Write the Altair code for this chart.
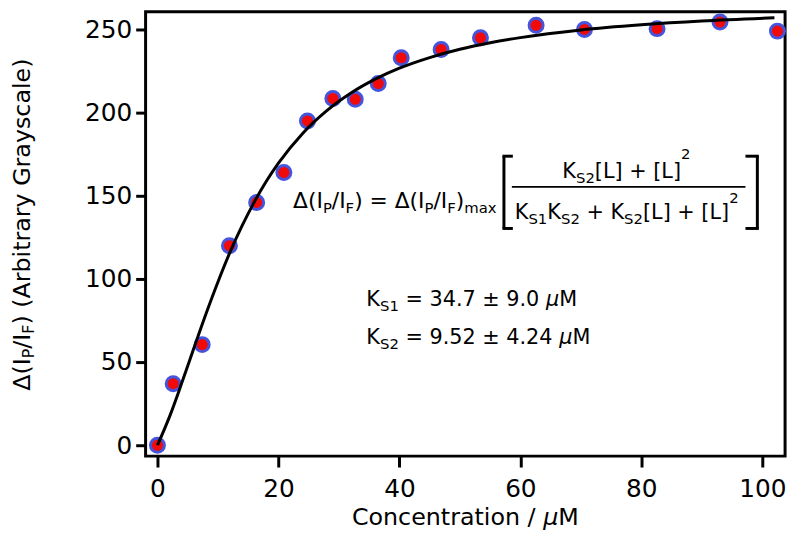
import altair as alt
import pandas as pd

# ---------------- data ----------------
conc = [0, 2.6, 7.4, 11.9, 16.4, 20.9, 24.8, 29.0, 32.7, 36.5, 40.3, 46.9,
        53.4, 62.6, 70.6, 82.6, 93.0, 102.5]
signal = [0, 37, 60.5, 120, 146, 164, 195, 208.5, 208, 217.5, 233, 238,
          245, 252.5, 250, 250.5, 254.5, 249]
fit_conc = [0, 2, 4, 6, 8, 10, 12, 14, 16, 18, 20, 24, 28, 32, 36, 40, 45,
            50, 55, 60, 70, 80, 90, 102]
fit_signal = [0, 17.2, 37.2, 58.2, 78.8, 98.2, 116.1, 132.0, 146.2, 158.7,
              169.6, 187.5, 201.2, 211.8, 220.1, 226.7, 233.1, 238.1, 242.0,
              245.1, 249.7, 252.8, 255.1, 257.0]
x_ticks = [0, 20, 40, 60, 80, 100]
y_ticks = [0, 50, 100, 150, 200, 250]

FONT = "DejaVu Sans"

points_df = pd.DataFrame({"conc": conc, "signal": signal})
fit_df = pd.DataFrame({"conc": fit_conc, "signal": fit_signal})

xscale = alt.Scale(domain=[-1.96, 103.76], nice=False, zero=False)
yscale = alt.Scale(domain=[-6.55, 260.7], nice=False, zero=False)

xaxis = alt.Axis(values=x_ticks, title=None, domain=False, grid=False,
                 tickSize=11, tickWidth=3, tickColor="black",
                 labelFont=FONT, labelFontSize=25, labelColor="black",
                 labelPadding=10, labelFlush=False)
yaxis = alt.Axis(values=y_ticks, title=None, domain=False, grid=False,
                 tickSize=10, tickWidth=3, tickColor="black",
                 labelFont=FONT, labelFontSize=25, labelColor="black",
                 labelPadding=4)

points = alt.Chart(points_df).mark_point(
    filled=True, fill="#f00a0a", stroke="#4654dc", strokeWidth=3,
    size=200, opacity=1, fillOpacity=1
).encode(
    x=alt.X("conc:Q", scale=xscale, axis=xaxis),
    y=alt.Y("signal:Q", scale=yscale, axis=yaxis),
)

curve = alt.Chart(fit_df).mark_line(
    color="black", strokeWidth=3, interpolate="monotone"
).encode(
    x=alt.X("conc:Q", scale=xscale),
    y=alt.Y("signal:Q", scale=yscale),
)

# ---------------- annotation helpers (layout only) ----------------
W = {" ": 651, "(": 799, ")": 799, "+": 1716, ".": 651, "/": 690,
     "=": 1716, "[": 799, "]": 799, "A": 1401, "C": 1430, "F": 1178,
     "G": 1591, "I": 604, "K": 1343, "L": 1141, "M": 1767, "P": 1235,
     "S": 1300, "a": 1255, "b": 1300, "c": 1126, "e": 1260, "i": 569,
     "l": 569, "m": 1995, "n": 1298, "o": 1253, "r": 842, "s": 1067,
     "t": 803, "x": 1212, "y": 1212, "\u0394": 1401, "\u00b1": 1716,
     "\u03bc": 1300}
for d in "0123456789":
    W[d] = 1303


def adv(s, size):
    return sum(W.get(c, 1250) for c in s) / 2048.0 * size


one = alt.Data(values=[{"k": 0}])


def text_layer(s, x, y, size, angle=0, style="normal"):
    return alt.Chart(one).mark_text(
        align="left", baseline="alphabetic", font=FONT, fontSize=size,
        angle=angle, fontStyle=style, color="black"
    ).encode(x=alt.value(x), y=alt.value(y), text=alt.value(s))


def run(pieces, x0, y0, main=21, small=15, angle=0):
    """pieces: list of (text, kind); kind in n, it, sub, supNN"""
    layers = []
    pos = 0.0
    for s, kind in pieces:
        size = main if kind in ("n", "it") else small
        shift = 0
        if kind == "sub":
            shift = 5
        elif kind.startswith("sup"):
            shift = -int(kind[3:]) if len(kind) > 3 else -17
        style = "italic" if kind == "it" else "normal"
        lead = len(s) - len(s.lstrip(" "))
        core = s.strip(" ")
        p = pos + adv(" " * lead, size)
        if angle == 0:
            layers.append(text_layer(core, x0 + p, y0 + shift, size, 0, style))
        else:
            layers.append(text_layer(core, x0 + shift * 0.8, y0 - p, size, 270, style))
        pos += adv(s, size)
    return layers


def width_of(pieces, main, small):
    return sum(adv(s, main if k in ("n", "it") else small) for s, k in pieces)


ann = []
# y-axis title (rotated)
ytitle = [("\u0394(I", "n"), ("P", "sub"), ("/I", "n"), ("F", "sub"),
          (") (Arbitrary Grayscale)", "n")]
ann += run(ytitle, -117, 383, main=24, small=16, angle=270)

# x-axis title
xtitle = [("Concentration / ", "n"), ("\u03bc", "it"), ("M", "n")]
xw = width_of(xtitle, 24, 16)
ann += run(xtitle, 323 - xw / 2, 519, main=24, small=16)

# equation, left part
eq_left = [("\u0394(I", "n"), ("P", "sub"), ("/I", "n"), ("F", "sub"),
           (") = \u0394(I", "n"), ("P", "sub"), ("/I", "n"), ("F", "sub"),
           (")", "n"), ("max", "sub")]
ann += run(eq_left, 149, 198, main=22, small=15)

numer = [("K", "n"), ("S2", "sub"), ("[L] + [L]", "n"), ("2", "sup19")]
ann += run(numer, 421, 168)
denom = [("K", "n"), ("S1", "sub"), ("K", "n"), ("S2", "sub"),
         (" + K", "n"), ("S2", "sub"), ("[L] + [L]", "n"), ("2", "sup16")]
ann += run(denom, 373, 209)

ks1 = [("K", "n"), ("S1", "sub"), (" = 34.7 \u00b1 9.0 ", "n"),
       ("\u03bc", "it"), ("M", "n")]
ks2 = [("K", "n"), ("S2", "sub"), (" = 9.52 \u00b1 4.24 ", "n"),
       ("\u03bc", "it"), ("M", "n")]
ann += run(ks1, 223, 297)
ann += run(ks2, 223, 336)


def rule(x, y, x2=None, y2=None, w=3):
    enc = {"x": alt.value(x), "y": alt.value(y)}
    if x2 is not None:
        enc["x2"] = alt.value(x2)
    if y2 is not None:
        enc["y2"] = alt.value(y2)
    return alt.Chart(one).mark_rule(color="black", strokeWidth=w).encode(**enc)


# brackets and fraction bar
ann += [
    rule(362, 146, y2=219),
    rule(360.5, 146, x2=371),
    rule(360.5, 219, x2=371),
    rule(618, 146, y2=219),
    rule(606, 146, x2=619.5),
    rule(606, 219, x2=619.5),
    rule(370, 177, x2=606, w=2),
]

chart = alt.layer(points, curve, *ann).properties(
    width=646, height=449,
    padding={"left": 139, "top": 1, "right": 7, "bottom": 80},
    autosize=alt.AutoSizeParams(type="none"),
).configure_view(stroke="black", strokeWidth=3)

chart.save("out.html", embed_options={"renderer": "svg", "actions": False})
